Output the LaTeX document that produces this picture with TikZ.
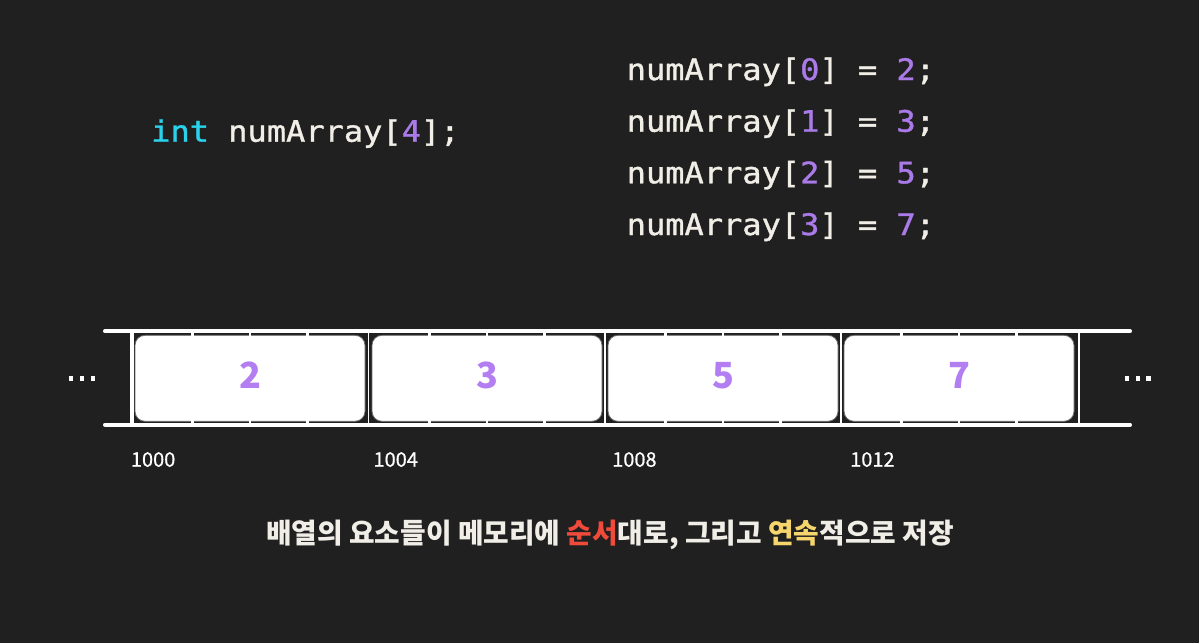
\documentclass[tikz,border=0pt]{standalone}
\usepackage{fontspec}
\newfontfamily\codefont[FakeStretch=1.085,FakeBold=1.2]{DejaVu Sans Mono}
\newfontfamily\kr{Noto Sans CJK KR}
\newfontfamily\krm[FakeBold=0.6]{Noto Sans CJK KR}
\definecolor{bg}{HTML}{202020}
\definecolor{txt}{HTML}{F0EEE6}
\definecolor{kw}{HTML}{2AD2EC}
\definecolor{num}{HTML}{A97AE8}
\definecolor{boxnum}{HTML}{B27EF2}
\definecolor{redk}{HTML}{F04A3A}
\definecolor{yelk}{HTML}{F6D56C}
\definecolor{edge}{HTML}{6A6A6A}
\tikzset{
  code/.style={anchor=base west, inner sep=0pt, text=txt, font=\codefont\fontsize{29.5}{30}\selectfont},
  rail/.style={draw=white, line width=4pt, line cap=round},
  cell/.style={rectangle, rounded corners=10pt, fill=white, draw=edge, line width=0.8pt,
    minimum width=230pt, minimum height=86pt, inner sep=0pt},
  val/.style={anchor=base, inner sep=0pt, text=boxnum, font=\kr\bfseries\fontsize{36}{36}\selectfont},
  addr/.style={anchor=base west, inner sep=0pt, text=white, font=\krm\fontsize{20}{20}\selectfont},
  dot/.style={fill=white, minimum width=4.3pt, minimum height=4.5pt, inner sep=0pt, rectangle},
  tick/.style={draw=white, line width=2.5pt},
  sep/.style={draw=white, line width=2.5pt},
}
\begin{document}
\begin{tikzpicture}[x=1pt,y=-1pt]
\useasboundingbox (0,0) rectangle (1199,643);
\fill[bg] (0,0) rectangle (1199,643);

% code
\node[code] (decl) at (151,141.7) {\textcolor{kw}{int} numArray[\textcolor{num}{4}];};
\node[code] (a0) at (626.5,80) {numArray[\textcolor{num}{0}] = \textcolor{num}{2};};
\node[code] (a1) at (626.5,131.7) {numArray[\textcolor{num}{1}] = \textcolor{num}{3};};
\node[code] (a2) at (626.5,183.3) {numArray[\textcolor{num}{2}] = \textcolor{num}{5};};
\node[code] (a3) at (626.5,235) {numArray[\textcolor{num}{3}] = \textcolor{num}{7};};

% rails
\coordinate (tl) at (105,331.3);
\coordinate (tr) at (1130,331.3);
\coordinate (bl) at (105,424.7);
\coordinate (br) at (1130,424.7);

% cells
\node[cell] (b1) at (250,378.3) {};
\node[cell] (b2) at (487,378.3) {};
\node[cell] (b3) at (723,378.3) {};
\node[cell] (b4) at (959,378.3) {};

% byte ticks
\foreach \s in {135,372,608,844}{
  \foreach \k in {1,2,3}{
    \draw[tick] (\s+57.5*\k,332) -- (\s+57.5*\k,336.5);
    \draw[tick] (\s+57.5*\k,420) -- (\s+57.5*\k,424);
  }
}

% vertical separators
\coordinate (v0t) at (132,331.3); \coordinate (v0b) at (132,424.7);
\coordinate (v1t) at (368.5,331.3); \coordinate (v1b) at (368.5,424.7);
\coordinate (v2t) at (605,331.3); \coordinate (v2b) at (605,424.7);
\coordinate (v3t) at (841,331.3); \coordinate (v3b) at (841,424.7);
\coordinate (v4t) at (1079,331.3); \coordinate (v4b) at (1079,424.7);
\draw[sep, line width=4pt] (v0t) -- (v0b);
\draw[sep, line width=1.8pt] (v1t) -- (v1b);
\draw[sep, line width=1.8pt] (v2t) -- (v2b);
\draw[sep, line width=1.8pt] (v3t) -- (v3b);
\draw[sep] (v4t) -- (v4b);

\draw[rail] (tl) -- (tr);
\draw[rail] (bl) -- (br);

% values
\node[val] (n1) at (250,388.3) {2};
\node[val] (n2) at (487,388.3) {3};
\node[val] (n3) at (723,388.3) {5};
\node[val] (n4) at (959,388.3) {7};

% dots
\node[dot] (l1) at (71.3,378.3) {};
\node[dot] (l2) at (82,378.3) {};
\node[dot] (l3) at (92.7,378.3) {};
\node[dot] (r1) at (1127.2,378.3) {};
\node[dot] (r2) at (1137.8,378.3) {};
\node[dot] (r3) at (1148.4,378.3) {};

% addresses
\node[addr] (m0) at (130.7,466.7) {1000};
\node[addr] (m1) at (373.3,466.7) {1004};
\node[addr] (m2) at (612,466.7) {1008};
\node[addr] (m3) at (850,466.7) {1012};

% caption
\node[anchor=base, inner sep=0pt, text=txt, font=\kr\bfseries\fontsize{27.8}{28}\selectfont] (cap) at (610,543.5)
  {배열의 요소들이 메모리에 \textcolor{redk}{순서}대로, 그리고 \textcolor{yelk}{연속}적으로 저장};
\end{tikzpicture}
\end{document}
